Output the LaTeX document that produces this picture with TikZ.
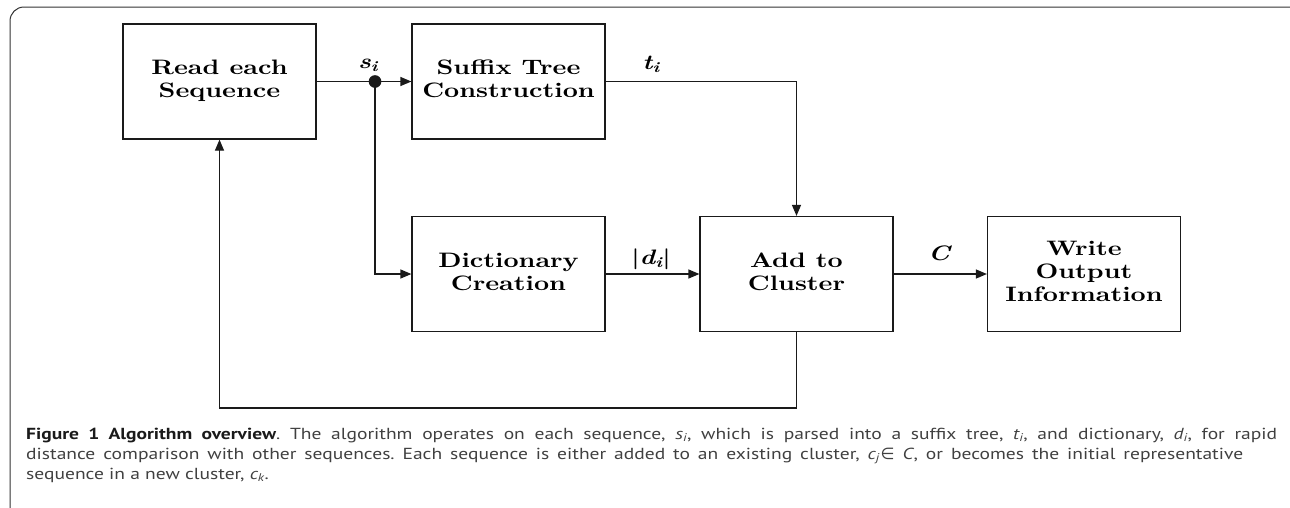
\documentclass[tikz,border=0pt]{standalone}
\usepackage{fontspec}
\usetikzlibrary{arrows.meta}
\newfontfamily\capfont{PT Sans}[FakeStretch=1.22]
\newfontfamily\symfont{DejaVu Sans}
\newfontface\bxfont{lmroman10-bold}[Extension=.otf, FakeStretch=1.26]
\newfontface\labfont{lmroman10-bolditalic}[Extension=.otf, FakeStretch=1.26]
\definecolor{captxt}{HTML}{404040}
\definecolor{captitle}{HTML}{1A1A1A}
\definecolor{lnclr}{HTML}{1A1A1A}
\definecolor{frameclr}{HTML}{333333}
\newcommand\bx[1]{\begin{tabular}{@{}c@{}}#1\end{tabular}}
\newcommand\capm[2]{{\itshape #1}\textsubscript{\itshape #2}}
\newcommand\lm[2]{{\labfont #1\textsubscript{#2}}}
\tikzset{
  blk/.style={draw=lnclr, line width=1.2pt, minimum width=193pt, minimum height=115pt,
    inner sep=0pt, font=\bxfont\fontsize{20.9}{23.3}\selectfont},
  ln/.style={draw=lnclr, line width=1.2pt},
  arr/.style={draw=lnclr, line width=1.2pt, -{Triangle[length=11pt,width=9pt]}},
  lab/.style={anchor=base, inner sep=0pt, font=\bxfont\fontsize{20.9}{24}\selectfont},
  capline/.style={anchor=base west, inner sep=0pt, text=captxt, font=\capfont\fontsize{16}{20}\selectfont\frenchspacing}
}
\begin{document}
\begin{tikzpicture}[x=1pt,y=-1pt]
\useasboundingbox (0,0) rectangle (1290,507);
\begin{scope}
  \clip (0,0) rectangle (1290,507);
  \draw[frameclr, line width=1pt, rounded corners=14pt] (10,7) rectangle (1330,522);
\end{scope}

\node[blk] (read) at (219.5,81.5) {\bx{Read each\\Sequence}};
\node[blk] (suffix) at (508.5,81.5) {\bx{Suffix Tree\\Construction}};
\node[blk] (dict) at (508.5,274) {\bx{Dictionary\\Creation}};
\node[blk] (add) at (796.5,274) {\bx{Add to\\Cluster}};
\node[blk] (write) at (1084,274) {\bx{Write\\Output\\Information}};
\node[circle, fill=lnclr, inner sep=0pt, minimum size=12.7pt] (dot) at (375,81.5) {};

\draw[ln] (read.east) -- (dot.center);
\draw[arr] (dot.center) -- (suffix.west);
\draw[arr] (dot.center) |- (dict.west);
\draw[arr] (suffix.east) -| (add.north);
\draw[arr] (dict.east) -- (add.west);
\draw[arr] (add.east) -- (write.west);
\coordinate (loop) at (796.5,408);
\draw[arr] (add.south) -- (loop) -| (read.south);

\node[lab] (lsi) at (368,68) {\lm{s}{i}};
\node[lab] (lti) at (651,69) {\lm{t}{i}};
\node[lab] (ldi) at (651,264) {|\lm{d}{i}|};
\node[lab] (lc) at (939,260) {{\labfont C}};

\node[capline] (cap1) at (26,439) {\makebox[1251pt][s]{{\bfseries\color{captitle}Figure 1 Algorithm overview}. The algorithm operates on each sequence, \capm{s}{i}, which is parsed into a suffix tree, \capm{t}{i}, and dictionary, \capm{d}{i}, for rapid}};
\node[capline] (cap2) at (26,459) {\makebox[1217pt][s]{distance comparison with other sequences. Each sequence is either added to an existing cluster, \capm{c}{j}\kern1pt{\symfont ∈} \capm{C}{}, or becomes the initial representative}};
\node[capline] (cap3) at (26,479) {sequence in a new cluster, \capm{c}{k}.};
\end{tikzpicture}
\end{document}
